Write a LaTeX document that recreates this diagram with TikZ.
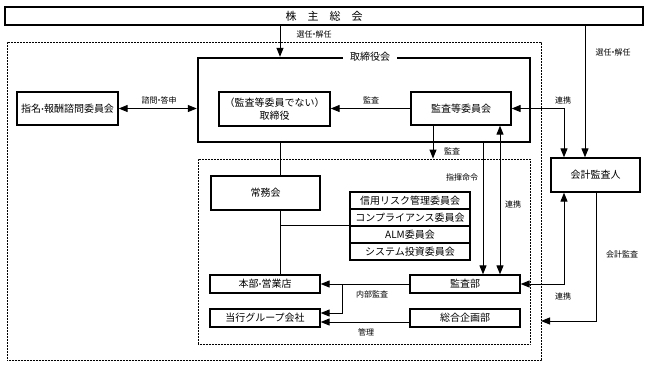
\documentclass[tikz,border=0pt]{standalone}
\usepackage{fontspec}
\setmainfont{Noto Sans CJK JP}
\usetikzlibrary{arrows.meta}
\newcommand{\ndot}{{\kern-2.5pt・\kern-2.5pt}}
\begin{document}
\begin{tikzpicture}[x=1pt,y=-1pt,
  box/.style={draw,line width=1.3pt,inner sep=0pt,font=\fontsize{10}{12.5}\selectfont},
  arr/.style={line width=1pt,-{Triangle[length=9pt,width=7pt]}},
  darr/.style={line width=1pt,{Triangle[length=9pt,width=7pt]}-{Triangle[length=9pt,width=7pt]}},
  plain/.style={line width=1pt},
  lbl/.style={font=\fontsize{8}{9}\selectfont,inner sep=0pt},
  dotbox/.style={draw,dash pattern=on 0.8pt off 0.7pt,line width=0.9pt,inner sep=0pt}]
\useasboundingbox (0,0) rectangle (648,368);
% dotted frames
\node[dotbox,minimum width=534pt,minimum height=318pt] (outer) at (274,201) {};
\node[dotbox,minimum width=332pt,minimum height=185pt] (inner) at (364,251.5) {};
% top
\node[box,minimum width=638pt,minimum height=18pt,font=\fontsize{11}{12}\selectfont] (kabu) at (324,16) {株\hspace{11pt}主\hspace{11pt}総\hspace{11pt}会};
% board
\node[draw,line width=2.4pt,minimum width=332pt,minimum height=84pt,inner sep=0pt] (board) at (364,100) {};
\node[fill=white,inner xsep=7pt,inner ysep=1pt,font=\fontsize{10}{12}\selectfont] (boardt) at (370,57) {取締役会};
\node[box,minimum width=111pt,minimum height=34pt,align=center] (dir) at (274.5,109) {（監査等委員でない）\\取締役};
\node[box,minimum width=100pt,minimum height=33pt] (kansa) at (461,108.5) {監査等委員会};
\node[box,minimum width=101pt,minimum height=33pt] (shimei) at (67.5,108.5) {指名{\fontsize{8}{9}\selectfont\ndot}報酬諮問委員会};
\node[box,minimum width=89pt,minimum height=34pt] (kaikei) at (595.5,175) {会計監査人};
% inner
\node[box,minimum width=109pt,minimum height=34pt] (jomu) at (265.5,193) {常務会};
\node[box,minimum width=120pt,minimum height=17pt] (s1) at (410,200.5) {信用リスク管理委員会};
\node[box,minimum width=120pt,minimum height=17pt] (s2) at (410,217.5) {コンプライアンス委員会};
\node[box,minimum width=120pt,minimum height=17pt] (s3) at (410,234.5) {ALM委員会};
\node[box,minimum width=120pt,minimum height=17pt] (s4) at (410,251.5) {システム投資委員会};
\node[box,minimum width=110pt,minimum height=18pt] (honbu) at (265,284) {本部{\fontsize{8}{9}\selectfont\ndot}営業店};
\node[box,minimum width=110pt,minimum height=18pt] (group) at (265,318) {当行グループ会社};
\node[box,minimum width=110pt,minimum height=18pt] (kansabu) at (465,284) {監査部};
\node[box,minimum width=110pt,minimum height=18pt] (sogo) at (465,318) {総合企画部};
% connectors
\draw[arr] (kabu.south -| 280,0) -- (board.north -| 280,0);
\node[lbl] at (314,34) {選任\ndot 解任};
\draw[arr] (kabu.south -| 585,0) -- (kaikei.north -| 585,0);
\node[lbl] at (613,52) {選任\ndot 解任};
\draw[darr] (shimei.east) -- (board.west |- shimei.east);
\node[lbl] at (159,100) {諮問\ndot 答申};
\draw[arr] (kansa.west) -- (dir.east |- kansa.west);
\node[lbl] at (371,100) {監査};
\draw[arr] (kansa.south -| 433,0) -- (inner.north -| 433,0);
\node[lbl] at (452,151) {監査};
\draw[arr] (board.south -| 483,0) -- (kansabu.north -| 483,0);
\node[lbl] at (462,177) {指揮命令};
\draw[darr] (kansa.south -| 500,0) -- (kansabu.north -| 500,0);
\node[lbl] at (513,204) {連携};
\draw[darr] (kansa.east) -| (kaikei.north -| 564,0);
\node[lbl] at (563,100) {連携};
\draw[darr] (kaikei.south -| 564,0) |- (kansabu.east);
\node[lbl] at (563,296) {連携};
\coordinate (kend) at (541,321);
\draw[arr] (kaikei.south -| 596,0) |- (kend);
\node[lbl] at (622,254) {会計監査};
\draw[plain] (board.south -| 280,0) -- (jomu.north -| 280,0);
\draw[plain] (jomu.south -| 280,0) -- (honbu.north -| 280,0);
\draw[plain] (s3.north west -| 280,0) -- (s3.north west);
\draw[arr] (kansabu.west) -- (honbu.east);
\coordinate (br) at (342,284);
\draw[arr] (br) |- (group.east |- 0,313);
\node[lbl] at (372,294) {内部監査};
\draw[arr] (sogo.west |- 0,322) -- (group.east |- 0,322);
\node[lbl] at (366,332) {管理};
\end{tikzpicture}
\end{document}
